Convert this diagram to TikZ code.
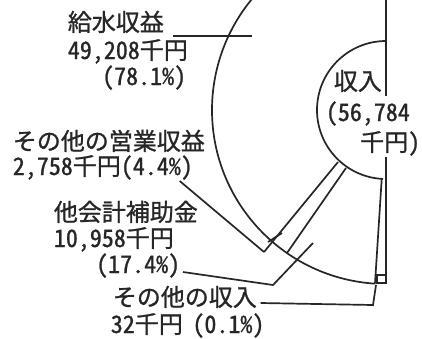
\documentclass[tikz,border=0pt]{standalone}
\usepackage{fontspec}
\newfontfamily\jpfont[RawFeature=+hwid,FakeBold=1]{Noto Sans CJK JP}
\begin{document}
\begin{tikzpicture}[x=1pt,y=1pt,line width=1.7pt,color=black!85]
\tikzstyle{every node}=[inner sep=0pt,font=\jpfont\fontsize{24}{24}\selectfont];
\useasboundingbox (0,0) rectangle (422,-338);
\clip (0,0) rectangle (422,-338);

  % pie
  \coordinate (o) at (386,-110);
  \draw (o) ++(130:174) arc[start angle=130,end angle=266.4,radius=174];
  \draw (o) ++(90:69) arc[start angle=90,end angle=267.5,radius=69];
  \draw (386,0) -- (386,-96);
  \draw (386,-157) -- (386,-283);
  \draw (377,-275) rectangle (386,-283);

  % labels
  \node[anchor=base west] (k1) at (67,-31) {給水収益};
  \node[anchor=base west] (k2) at (67,-59) {49,208千円};
  \node[anchor=base east] (k3) at (187,-85) {(78.1\%)};
  \node[anchor=base west] (e1) at (12,-150) {その他の営業収益};
  \node[anchor=base west] (e2) at (12,-175) {2,758千円(4.4\%)};
  \node[anchor=base west] (h1) at (53,-221) {他会計補助金};
  \node[anchor=base west] (h2) at (53,-247) {10,958千円};
  \node[anchor=base east] (h3) at (181,-273) {(17.4\%)};
  \node[anchor=base west] (s1) at (112,-306) {その他の収入};
  \node[anchor=base west] (s2) at (110,-333) {32千円\hspace{0.4em}(0.1\%)};
  \node[anchor=base west] (t1) at (333,-90) {収入};
  \node[anchor=base west] (t2) at (325,-121) {(56,784};
  \node[anchor=base east] (t3) at (421,-151) {千円)};

  \coordinate (kl) at (252,-36);
  \coordinate (a1) at (338,-162);
  \coordinate (ev) at (264,-252);
  \coordinate (ea) at (268,-242);
  \coordinate (eb) at (282,-233);
  \coordinate (b1) at (346,-168);
  \coordinate (b2) at (287,-253);
  \coordinate (c1) at (381.7,-179);
  \coordinate (c2) at (375,-283.5);
  \coordinate (hb) at (273,-285);
  \coordinate (ht) at (313,-243);
  \coordinate (sb) at (373,-305);
  \coordinate (st) at (376,-285);

\foreach \from/\to in {ev/a1, ea/eb, b1/b2, c1/c2}
\draw (\from) -- (\to);

\draw ([shift={(8,-5)}]k1.base east) -- (kl);
\draw ([shift={(-14,-6)}]e2.base east) -- (ev);
\draw ([shift={(2,1)}]h3.base east) -- (hb) -- (ht);
\draw ([shift={(3,3)}]s1.base east) -- (sb) -- (st);

\end{tikzpicture}
\end{document}
